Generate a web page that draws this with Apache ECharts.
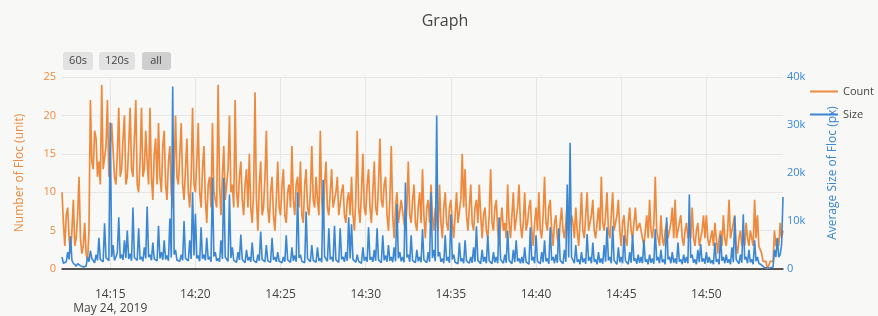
<!DOCTYPE html>
<html>
<head>
<meta charset="utf-8">
<script src="https://cdn.jsdelivr.net/npm/echarts@6/dist/echarts.min.js"></script>
<style>
  html, body { margin: 0; padding: 0; background: #f8f8f6; }
  #main { width: 878px; height: 316px; }
</style>
</head>
<body>
<div id="main"></div>
<script>
  // samples every 5 s, starting 14:12:10 on May 24, 2019
  var startTime = new Date(2019, 4, 24, 14, 12, 10).getTime();
  var stepMs = 5000;

  // Number of Floc (unit), one row per minute
  var countValues = [
    10, 6, 3, 7, 8, 4, 2, 5, 9, 3, 4, 7,
    12, 4, 2, 3, 6, 2, 1, 5, 22, 14, 13, 18,
    17, 12, 14, 11, 24, 13, 13, 16, 22, 12, 12, 19,
    19, 12, 11, 15, 21, 12, 13, 17, 20, 11, 12, 16,
    21, 13, 12, 17, 22, 11, 10, 14, 21, 12, 13, 18,
    14, 11, 21, 12, 9, 15, 17, 11, 19, 12, 10, 16,
    18, 11, 9, 14, 16, 10, 8, 13, 20, 12, 11, 15,
    19, 11, 9, 13, 17, 10, 8, 12, 21, 11, 10, 14,
    19, 10, 8, 13, 16, 9, 6, 11, 12, 8, 19, 10,
    10, 8, 24, 11, 7, 12, 16, 9, 9, 13, 20, 10,
    11, 8, 22, 10, 8, 12, 14, 9, 7, 11, 13, 8,
    15, 8, 6, 10, 23, 9, 5, 11, 14, 7, 8, 12,
    18, 8, 6, 10, 12, 7, 5, 9, 14, 8, 7, 11,
    13, 7, 6, 10, 11, 8, 16, 9, 7, 11, 12, 8,
    14, 7, 6, 11, 13, 8, 7, 10, 16, 9, 8, 12,
    9, 7, 18, 9, 6, 11, 14, 8, 7, 10, 13, 8,
    8, 10, 12, 7, 7, 10, 11, 7, 6, 9, 10, 7,
    12, 7, 5, 9, 18, 8, 6, 10, 15, 8, 7, 11,
    13, 8, 6, 10, 14, 8, 7, 11, 17, 9, 8, 11,
    12, 7, 5, 9, 16, 7, 4, 8, 10, 6, 6, 9,
    9, 6, 5, 8, 14, 7, 6, 9, 11, 6, 5, 8,
    10, 6, 13, 7, 4, 8, 9, 6, 11, 7, 5, 8,
    8, 5, 11, 6, 4, 8, 10, 6, 5, 8, 9, 6,
    4, 7, 10, 6, 6, 9, 15, 8, 13, 7, 5, 8,
    11, 6, 5, 8, 9, 6, 11, 7, 4, 7, 8, 5,
    4, 7, 13, 6, 5, 8, 9, 5, 3, 6, 8, 5,
    6, 4, 11, 6, 4, 7, 10, 5, 5, 8, 11, 6,
    4, 6, 10, 5, 6, 8, 9, 5, 3, 6, 8, 5,
    10, 5, 4, 7, 12, 6, 5, 8, 9, 5, 3, 6,
    7, 4, 3, 6, 8, 5, 4, 6, 9, 5, 5, 7,
    6, 4, 8, 5, 3, 6, 10, 5, 4, 7, 10, 5,
    5, 7, 9, 5, 4, 6, 8, 5, 12, 6, 5, 7,
    10, 5, 4, 7, 10, 5, 5, 7, 9, 5, 3, 6,
    7, 4, 3, 6, 8, 5, 4, 6, 8, 5, 5, 6,
    6, 4, 3, 5, 7, 4, 9, 5, 4, 6, 12, 5,
    5, 3, 7, 4, 3, 5, 6, 4, 4, 6, 8, 4,
    9, 4, 4, 6, 7, 4, 3, 5, 6, 4, 5, 4,
    8, 4, 3, 5, 6, 3, 4, 5, 7, 4, 7, 4,
    3, 4, 5, 3, 6, 4, 2, 4, 5, 3, 7, 4,
    3, 5, 9, 4, 4, 6, 7, 3, 2, 4, 5, 3,
    4, 3, 6, 4, 3, 5, 5, 3, 9, 4, 7, 3,
    3, 2, 1, 1, 1, 0, 0, 1, 1, 1, 5, 3,
    4, 3, 6, 4, 5
  ];

  // Average Size of Floc (px), one row per minute
  var sizeValues = [
    2500, 1200, 800, 1500, 3500, 2000, 6800, 1800, 1200, 900, 600, 1100,
    1500, 700, 500, 400, 300, 600, 2500, 1500, 3800, 2200, 1800, 1300,
    3000, 1800, 6500, 2000, 2200, 1500, 9500, 2400, 2800, 1700, 30500, 2500,
    5000, 1800, 2500, 3500, 10800, 2200, 3000, 1900, 6000, 2300, 8000, 2100,
    3200, 1700, 12800, 2400, 2800, 1800, 8500, 2000, 2500, 1600, 4500, 2200,
    13000, 2500, 3000, 1800, 5500, 2100, 2400, 1700, 9000, 2200, 3500, 1900,
    6000, 2000, 2800, 1700, 10500, 2400, 38000, 3000, 4000, 1800, 2200, 1600,
    3000, 1800, 10000, 2200, 2500, 1700, 6000, 2100, 16000, 2800, 11500, 2200,
    2800, 1600, 8700, 2100, 3000, 1800, 6500, 2000, 2500, 1500, 19000, 2600,
    3500, 1700, 2200, 1500, 6000, 2100, 19000, 2500, 2500, 1600, 15500, 2300,
    4500, 1800, 2000, 1400, 3500, 1900, 7200, 2000, 1800, 1300, 4000, 1800,
    2500, 1500, 5500, 1800, 1800, 1300, 3000, 1700, 7800, 2000, 2200, 1500,
    5000, 1700, 2000, 1400, 6500, 1900, 2500, 1500, 3500, 1600, 1800, 1300,
    2500, 1500, 7000, 1900, 2200, 1400, 4500, 1700, 2800, 1500, 16000, 2300,
    3000, 1600, 1800, 1300, 12000, 2200, 2500, 1500, 5000, 1800, 2000, 1400,
    4500, 1700, 2200, 1400, 18600, 2600, 3000, 1600, 8500, 2000, 2500, 1500,
    9000, 1900, 2000, 1400, 8500, 2000, 2500, 1500, 3500, 1700, 10800, 2200,
    9300, 2000, 2200, 1400, 3000, 1600, 1800, 1200, 4500, 1700, 2500, 1500,
    8700, 1900, 2500, 1500, 4000, 1700, 8500, 1900, 2000, 1300, 7000, 1800,
    2800, 1500, 5000, 1700, 2500, 1400, 4500, 1600, 13500, 2200, 3500, 1600,
    2500, 1400, 18000, 2400, 3000, 1500, 7000, 1800, 2200, 1300, 4000, 1600,
    2500, 1400, 8300, 1900, 2000, 1300, 3500, 1500, 16000, 2300, 4000, 1600,
    32000, 2600, 3500, 1500, 2200, 1200, 7000, 1700, 2500, 1300, 11400, 2000,
    3000, 1400, 1800, 1100, 5500, 1600, 2200, 1200, 6000, 1700, 2000, 1200,
    2500, 1300, 4500, 1500, 8900, 1800, 2000, 1100, 4000, 1500, 2500, 1200,
    7000, 1700, 2000, 1100, 3500, 1400, 2500, 1200, 10800, 2000, 2200, 1200,
    3000, 1300, 8000, 1800, 2000, 1100, 4000, 1400, 6000, 1600, 2200, 1200,
    2500, 1200, 4500, 1500, 1800, 1000, 8700, 1800, 2500, 1200, 7000, 1600,
    2000, 1100, 3500, 1400, 6000, 1600, 2200, 1100, 8700, 1800, 2500, 1200,
    3000, 1300, 8500, 1800, 2200, 1100, 4000, 1500, 17600, 2400, 26300, 2500,
    2500, 1200, 5000, 1500, 2000, 1000, 3500, 1400, 2200, 1100, 7300, 1700,
    2500, 1200, 5500, 1500, 2000, 1000, 3500, 1300, 2200, 1100, 5000, 1500,
    8700, 1800, 2500, 1200, 9000, 1800, 2000, 1000, 4500, 1400, 2500, 1200,
    7000, 1700, 2000, 1000, 3500, 1300, 7200, 1700, 2200, 1100, 3000, 1300,
    2500, 1200, 6000, 1500, 2000, 1000, 3000, 1300, 2200, 1100, 8300, 1800,
    2500, 1200, 4000, 1400, 2000, 1000, 10800, 2000, 2500, 1200, 3500, 1300,
    2200, 1100, 5500, 1500, 2000, 1000, 3000, 1300, 2500, 1200, 15500, 2300,
    3000, 1300, 2000, 1000, 4000, 1400, 5200, 1500, 2200, 1100, 3500, 1300,
    2500, 1200, 1800, 1000, 5500, 1500, 2000, 1000, 7000, 1700, 2500, 1200,
    3000, 1300, 2000, 1000, 4500, 1400, 11000, 2000, 2200, 1100, 3000, 1300,
    11400, 2000, 2500, 1200, 4000, 1400, 2000, 1000, 6000, 1600, 2500, 1200,
    1500, 800, 400, 300, 300, 200, 200, 250, 300, 400, 4000, 2500,
    6500, 2500, 3000, 5000, 15000
  ];

  var timeTicks = ["14:15", "14:20", "14:25", "14:30", "14:35", "14:40", "14:45", "14:50"];
  var countTicks = [0, 5, 10, 15, 20, 25];
  var sizeTicks = ["0", "10k", "20k", "30k", "40k"];

  var orange = "#ee8a3e";
  var blue = "#3b87d3";
  var font = "Open Sans";

  var countData = [];
  var sizeData = [];
  for (var i = 0; i < countValues.length; i++) {
    var t = startTime + i * stepMs;
    countData.push([t, countValues[i]]);
    sizeData.push([t, sizeValues[i]]);
  }
  var endTime = startTime + (countValues.length - 1) * stepMs;

  var tickValues = timeTicks.map(function (s) {
    var p = s.split(":");
    return new Date(2019, 4, 24, +p[0], +p[1], 0).getTime();
  });

  var chart = echarts.init(document.getElementById("main"), null, { renderer: "canvas" });
  var option = {
    backgroundColor: "#f8f8f6",
    animation: false,
    textStyle: { fontFamily: font },
    title: {
      text: "Graph",
      left: 440,
      top: 8,
      textAlign: "center",
      textStyle: { fontFamily: font, fontSize: 16, fontWeight: "normal", color: "#444" }
    },
    legend: {
      orient: "vertical",
      left: 805,
      top: 81,
      itemWidth: 28,
      itemHeight: 2,
      itemGap: 12,
      icon: "rect",
      data: ["Count", "Size"],
      textStyle: { fontFamily: font, fontSize: 11, color: "#444" }
    },
    graphic: [
      { type: "rect", shape: { x: 63, y: 52, width: 30, height: 18, r: 3 }, style: { fill: "#e2e2e2" } },
      { type: "text", x: 78, y: 61, style: { text: "60s", fill: "#444", font: "11px Open Sans", textAlign: "center", textVerticalAlign: "middle" } },
      { type: "rect", shape: { x: 99, y: 52, width: 36, height: 18, r: 3 }, style: { fill: "#e2e2e2" } },
      { type: "text", x: 117, y: 61, style: { text: "120s", fill: "#444", font: "11px Open Sans", textAlign: "center", textVerticalAlign: "middle" } },
      { type: "rect", shape: { x: 142, y: 52, width: 29, height: 18, r: 3 }, style: { fill: "#cfcfcf" } },
      { type: "text", x: 156, y: 61, style: { text: "all", fill: "#444", font: "11px Open Sans", textAlign: "center", textVerticalAlign: "middle" } }
    ],
    grid: { left: 62, right: 95, top: 77, bottom: 46 },
    xAxis: {
      type: "value",
      min: startTime,
      max: endTime,
      axisLine: { show: true, lineStyle: { color: "#222", width: 1.5 } },
      axisTick: { show: false, customValues: tickValues },
      splitLine: { show: true, lineStyle: { color: "#e6e6e6" } },
      axisLabel: {
        customValues: tickValues,
        color: "#444",
        fontSize: 12,
        fontFamily: font,
        margin: 19,
        lineHeight: 14,
        formatter: function (value) {
          var s = timeTicks[tickValues.indexOf(value)] || "";
          if (value === tickValues[0]) s += "\nMay 24, 2019";
          return s;
        }
      }
    },
    yAxis: [
      {
        type: "value",
        min: countTicks[0],
        max: countTicks[countTicks.length - 1],
        interval: 5,
        name: "Number of Floc (unit)",
        nameLocation: "middle",
        nameGap: 36,
        nameRotate: 90,
        nameTextStyle: { color: orange, fontSize: 12, fontFamily: font },
        axisLine: { show: false },
        axisTick: { show: false },
        splitLine: { show: true, lineStyle: { color: "#e6e6e6" } },
        axisLabel: { color: orange, fontSize: 11, fontFamily: font, margin: 6 }
      },
      {
        type: "value",
        min: 0,
        max: 40000,
        interval: 10000,
        position: "right",
        name: "Average Size of Floc (px)",
        nameLocation: "middle",
        nameGap: 44,
        nameRotate: 90,
        nameTextStyle: { color: blue, fontSize: 12, fontFamily: font },
        axisLine: { show: false },
        axisTick: { show: false },
        splitLine: { show: false },
        axisLabel: {
          color: blue, fontSize: 11, fontFamily: font, margin: 4,
          formatter: function (v) { return sizeTicks[Math.round(v / 10000)]; }
        }
      }
    ],
    series: [
      {
        name: "Count",
        type: "line",
        yAxisIndex: 0,
        symbol: "none",
        color: orange,
        lineStyle: { width: 1.7, color: orange },
        data: countData
      },
      {
        name: "Size",
        type: "line",
        yAxisIndex: 1,
        symbol: "none",
        color: blue,
        lineStyle: { width: 1.6, color: blue },
        data: sizeData
      }
    ]
  };
  chart.setOption(option);
</script>
</body>
</html>
